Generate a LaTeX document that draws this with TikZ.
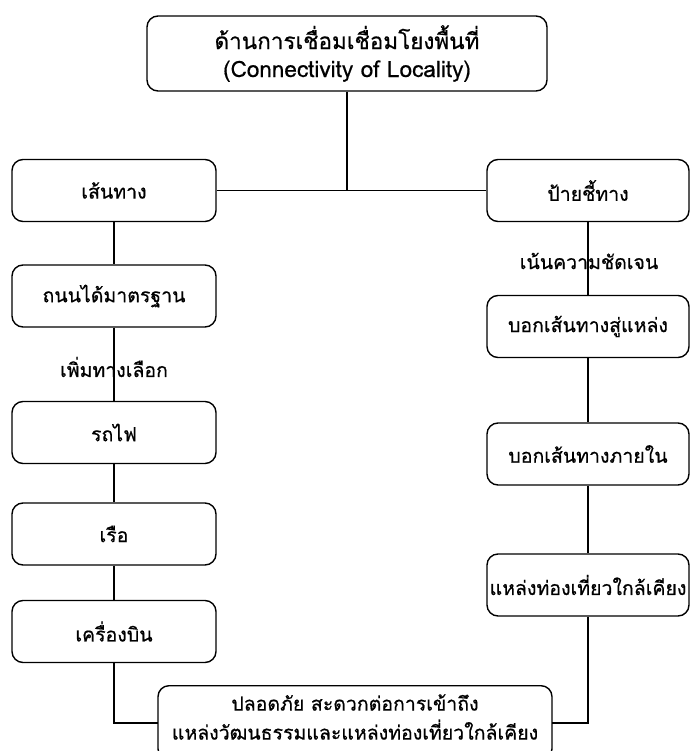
\documentclass[tikz,border=0pt]{standalone}
\usepackage{fontspec}
\newfontfamily\thaifont[Script=Thai,FakeBold=0.6]{Loma}
\begin{document}
\begin{tikzpicture}[x=1pt,y=-1pt,
  box/.style={draw=black,line width=1.4pt,rounded corners=11pt,inner sep=0pt,align=center,
    font=\thaifont\fontsize{19.5}{23}\selectfont},
  lbox/.style={box,minimum width=204pt,minimum height=62pt},
  rbox/.style={box,minimum width=202pt,minimum height=62pt},
  conn/.style={line width=1.4pt,black},
  lab/.style={inner sep=0pt,font=\thaifont\fontsize{19.5}{23}\selectfont}]
\useasboundingbox (0,0) rectangle (691,751);
\begin{scope}
\clip (0,0) rectangle (691,751);
\node[box,minimum width=400pt,minimum height=75pt,font=\thaifont\fontsize{22.5}{28}\selectfont] (top) at (347,53.5) {ด้านการเชื่อมเชื่อมโยงพื้นที่\\(Connectivity of Locality)};
\node[lbox] (l1) at (114,190.5) {เส้นทาง};
\node[lbox] (l2) at (114,296) {ถนนได้มาตรฐาน};
\node[lbox] (l3) at (114,432.5) {รถไฟ};
\node[lbox] (l4) at (114,534) {เรือ};
\node[lbox] (l5) at (114,631.5) {เครื่องบิน};
\node[rbox] (r1) at (588,190.5) {ป้ายชี้ทาง};
\node[rbox] (r2) at (588,326.5) {บอกเส้นทางสู่แหล่ง};
\node[rbox] (r3) at (588,454) {บอกเส้นทางภายใน};
\node[rbox] (r4) at (588,585) {แหล่งท่องเที่ยวใกล้เคียง};
\node[box,minimum width=394pt,minimum height=74pt,anchor=north,text depth=0pt] (bot) at (355,685) {};
\node[lab,font=\thaifont\fontsize{19.5}{29}\selectfont,align=center] (bottxt) at (355,717) {ปลอดภัย สะดวกต่อการเข้าถึง\\แหล่งวัฒนธรรมและแหล่งท่องเที่ยวใกล้เคียง};
\coordinate (j) at (347,190.5);
\draw[conn] (top.south) -- (j);
\draw[conn] (l1.east) -- (r1.west);
\draw[conn] (l1) -- (l2);
\draw[conn] (l2) -- (l3);
\draw[conn] (l3) -- (l4);
\draw[conn] (l4) -- (l5);
\draw[conn] (r1) -- (r2);
\draw[conn] (r2) -- (r3);
\draw[conn] (r3) -- (r4);
\coordinate (bl) at (114,723);
\coordinate (br) at (588,723);
\coordinate (bw) at (158,723);
\coordinate (be) at (552,723);
\draw[conn] (l5.south) -- (bl) -- (bw);
\draw[conn] (r4.south) -- (br) -- (be);
\node[lab] (t1) at (114,367) {เพิ่มทางเลือก};
\node[lab] (t2) at (589,261) {เน้นความชัดเจน};
\end{scope}
\end{tikzpicture}
\end{document}
